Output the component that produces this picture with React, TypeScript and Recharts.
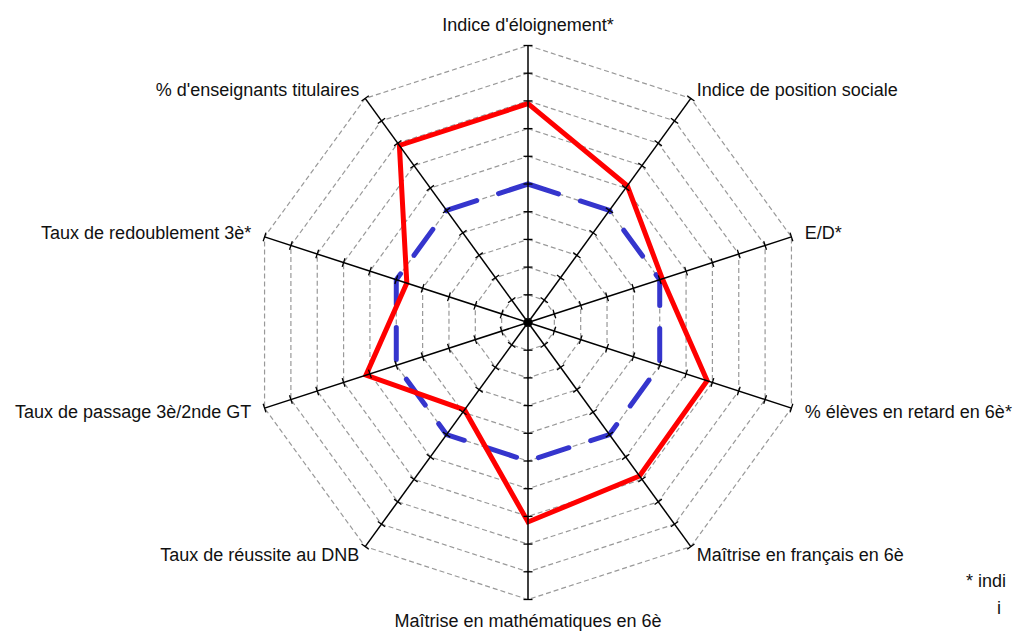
import { RadarChart, Radar, PolarGrid, PolarAngleAxis, PolarRadiusAxis } from 'recharts';

const categories = [
    "Indice d'éloignement*",
    'Indice de position sociale',
    'E/D*',
    '% élèves en retard en 6è*',
    'Maîtrise en français en 6è',
    'Maîtrise en mathématiques en 6è',
    'Taux de réussite au DNB',
    'Taux de passage 3è/2nde GT',
    'Taux de redoublement 3è*',
    "% d'enseignants titulaires",
];
const etablissement = [158, 122, 102, 136, 137, 144, 78, 123, 92, 158];
const reference = [100, 100, 100, 100, 100, 100, 100, 100, 100, 100];
const footnote = ['* indi', 'i'];

const data = categories.map((name, i) => ({
    name,
    etablissement: etablissement[i],
    reference: reference[i],
}));

const CX = 528;
const CY = 322.5;
const R = 277;
const FONT = '"Liberation Sans", Arial, sans-serif';
const angles = categories.map((_, i) => 90 - 36 * i);

function AngleTick(props: any) {
    const i = categories.indexOf(props.payload.value);
    const rad = (angles[i] * Math.PI) / 180;
    const cos = Math.cos(rad);
    const sin = Math.sin(rad);
    const d = Math.abs(cos) > 0.3 && Math.abs(cos) < 0.9 ? 10 : i === 0 || i === 5 ? 15 : 14;
    const x = CX + (R + d) * cos;
    const y = CY - (R + d) * sin;
    const anchor = cos > 0.1 ? 'start' : cos < -0.1 ? 'end' : 'middle';
    const baseline = i === 0 ? 'auto' : i === 5 ? 'hanging' : 'central';
    return (
        <text x={x} y={y} textAnchor={anchor} dominantBaseline={baseline} fontSize={18} fontFamily={FONT} fill="#111">
            {props.payload.value}
        </text>
    );
}

function makeRadiusTick(angle: number) {
    const rad = (angle * Math.PI) / 180;
    const px = Math.sin(rad) * 4.5;
    const py = Math.cos(rad) * 4.5;
    return (props: any) => (
        <line x1={props.x - px} y1={props.y - py} x2={props.x + px} y2={props.y + py} stroke="#000" strokeWidth={1.3} />
    );
}

export default function App() {
    return (
        <div style={{ position: 'absolute', left: 0, top: 0, width: 1017, height: 633, background: '#fff' }}>
            <RadarChart width={1017} height={633} data={data} cx={CX} cy={CY} outerRadius={R}
                margin={{ top: 0, right: 0, bottom: 0, left: 0 }}>
                <PolarGrid gridType="polygon" radialLines={false} stroke="#999" strokeWidth={1.2} strokeDasharray="5 3" />
                <PolarAngleAxis dataKey="name" axisLine={false} tickLine={false} tick={AngleTick} />
                {angles.map((a, i) => (
                    <PolarRadiusAxis key={i} radiusAxisId={i} angle={a} domain={[0, 200]} tickCount={11}
                        type="number" axisLine={{ stroke: '#000', strokeWidth: 1.5 }} tick={makeRadiusTick(a)} />
                ))}
                {/* one invisible series per spoke so every radius axis gets drawn */}
                {angles.map((_, i) => i > 0 && (
                    <Radar key={'h' + i} radiusAxisId={i} dataKey="reference" stroke="none" fill="none"
                        dot={false} legendType="none" isAnimationActive={false} />
                ))}
                <Radar dataKey="reference" stroke="#3535cd" strokeWidth={5} strokeDasharray="32 23"
                    strokeLinecap="round" fill="none" fillOpacity={0} dot={false} isAnimationActive={false} />
                <Radar dataKey="etablissement" stroke="#ff0000" strokeWidth={5} fill="none" fillOpacity={0}
                    dot={false} isAnimationActive={false} />
            </RadarChart>
            <svg width={1017} height={633} style={{ position: 'absolute', left: 0, top: 0, pointerEvents: 'none' }}>
                <text x={966} y={587} fontSize={18} fontFamily={FONT} fill="#111">{footnote[0]}</text>
                <text x={997} y={614} fontSize={18} fontFamily={FONT} fill="#111">{footnote[1]}</text>
            </svg>
        </div>
    );
}
